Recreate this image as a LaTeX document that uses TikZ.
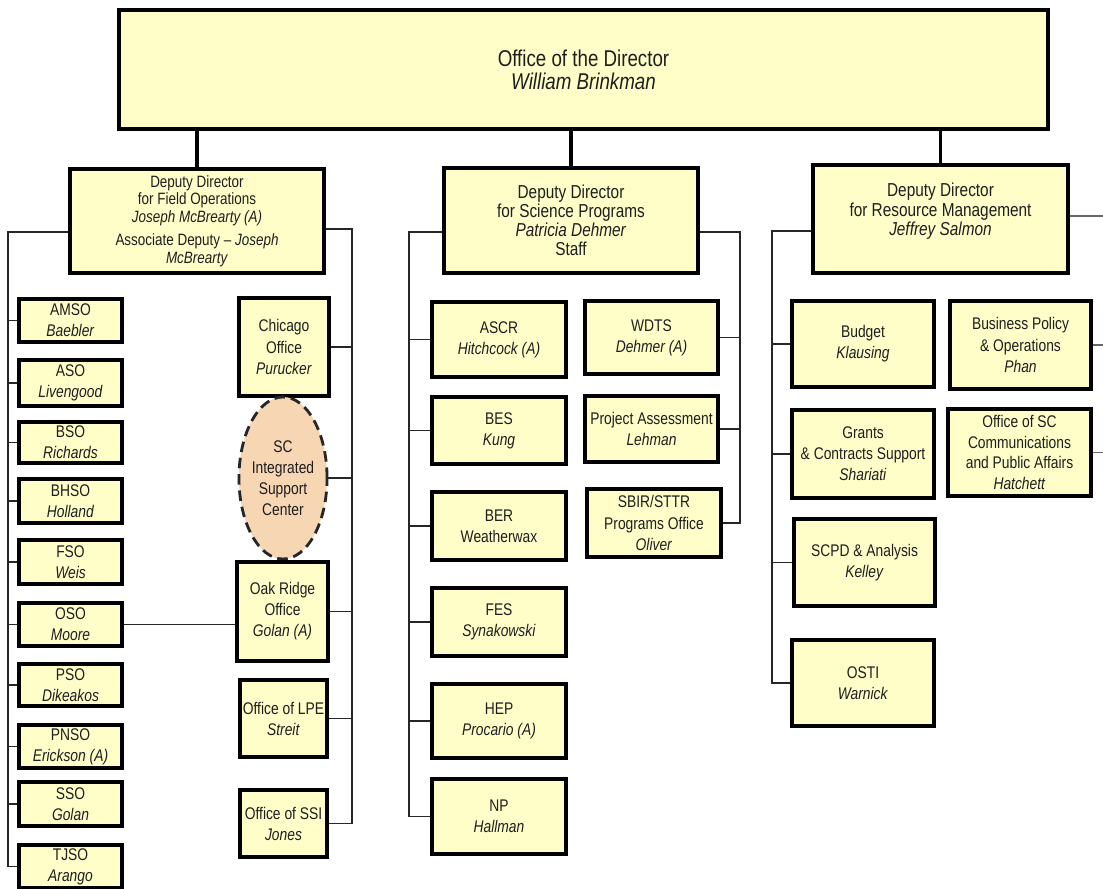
\documentclass[tikz,border=0pt]{standalone}
\usepackage{fontspec}
\setmainfont{Liberation Sans}[FakeStretch=0.82]
\usetikzlibrary{shapes.geometric}
\definecolor{boxfill}{RGB}{255,254,200}
\definecolor{iscfill}{RGB}{247,214,180}
\definecolor{txt}{RGB}{30,30,30}
\tikzset{
  box/.style={draw=black, line width=3.2pt, fill=boxfill, inner sep=1pt, align=center, text=txt,
    font=\fontsize{14.4}{18}\selectfont},
  dep/.style={box, line width=3.4pt},
  conn/.style={draw=black!85, line width=1.1pt},
  trunk/.style={draw=black, line width=2.6pt},
  isc/.style={ellipse, draw=black!85, fill=iscfill, line width=2.4pt, dash pattern=on 9pt off 5pt,
    inner sep=0pt, align=center, text=txt, font=\fontsize{14.4}{18}\selectfont},
}
\newcommand\orgbox[7][]{%
  \node[box,minimum width={(#5-#3)*0.03cm-3.2pt},minimum height={(#6-#4)*0.03cm-3.2pt},#1]
    (#2) at ({(#3+#5)/2},{(#4+#6)/2}) {#7};}
\begin{document}
\begin{tikzpicture}[x=0.03cm,y=-0.03cm]
\useasboundingbox[fill=white] (0,0) rectangle (1103,888);

% director
\orgbox[line width=3.6pt,font=\fontsize{19.5}{19.5}\selectfont]{dir}{117}{8}{1050}{131}{Office of the Director\\\textit{William Brinkman}}

% deputies
\orgbox[dep,font=\fontsize{14}{15}\selectfont]{dd1}{68}{167}{326}{275}{Deputy Director\\for Field Operations\\\textit{Joseph McBrearty (A)}\\[5pt]Associate Deputy \textendash\ \textit{Joseph}\\\textit{McBrearty}}
\orgbox[dep,font=\fontsize{16}{16.2}\selectfont]{dd2}{442}{166}{700}{275}{Deputy Director\\for Science Programs\\\textit{Patricia Dehmer}\\Staff}
\orgbox[dep,font=\fontsize{16}{16.6}\selectfont]{dd3}{811}{163}{1070}{275}{Deputy Director\\for Resource Management\\\textit{Jeffrey Salmon}\\\mbox{}}

\draw[trunk] (dir.south -| dd1.north) -- (dd1.north);
\draw[trunk] (dir.south -| dd2.north) -- (dd2.north);
\draw[trunk] (dir.south -| dd3.north) -- (dd3.north);

% field operations - site offices
\orgbox{amso}{17}{297}{124}{344}{AMSO\\\textit{Baebler}}
\orgbox{aso}{17}{358}{124}{408}{ASO\\\textit{Livengood}}
\orgbox{bso}{17}{420}{124}{465}{BSO\\\textit{Richards}}
\orgbox{bhso}{17}{477}{124}{525}{BHSO\\\textit{Holland}}
\orgbox{fso}{17}{538}{124}{586}{FSO\\\textit{Weis}}
\orgbox{oso}{17}{601}{124}{648}{OSO\\\textit{Moore}}
\orgbox{pso}{17}{662}{124}{708}{PSO\\\textit{Dikeakos}}
\orgbox{pnso}{17}{723}{124}{770}{PNSO\\\textit{Erickson (A)}}
\orgbox{sso}{17}{780}{124}{828}{SSO\\\textit{Golan}}
\orgbox{tjso}{17}{843}{124}{890}{TJSO\\\textit{Arango}}

\orgbox{chicago}{237}{296}{331}{398}{Chicago\\Office\\\textit{Purucker}}
\node[isc, minimum width={83*0.03cm}, minimum height={162*0.03cm}] (iscn) at (283,478) {SC\\Integrated\\Support\\Center};
\orgbox{oak}{235}{560}{330}{663}{Oak Ridge\\Office\\\textit{Golan (A)}}
\orgbox{lpe}{238}{678}{329}{759}{Office of LPE\\\textit{Streit}}
\orgbox{ssi}{238}{788}{329}{859}{Office of SSI\\\textit{Jones}}

\coordinate (L0) at (8,232);
\draw[conn] (dd1.west |- L0) -- (L0) -- (L0 |- tjso.west) -- (tjso.west);
\foreach \n in {amso,aso,bso,bhso,fso,oso,pso,pnso,sso}
  \draw[conn] (\n.west) -- (\n.west -| L0);
\coordinate (R0) at (352,229);
\draw[conn] (dd1.east |- R0) -- (R0) -- (R0 |- ssi.east) -- (ssi.east);
\foreach \n in {chicago,iscn,oak,lpe}
  \draw[conn] (\n.east) -- (\n.east -| R0);
\draw[conn] (oso.east) -- (oak.west |- oso.east);

% science programs
\orgbox{ascr}{430}{300}{568}{379}{ASCR\\\textit{Hitchcock (A)}}
\orgbox{bes}{430}{395}{568}{466}{BES\\\textit{Kung}}
\orgbox{ber}{430}{490}{568}{562}{BER\\Weatherwax}
\orgbox{fes}{430}{586}{568}{658}{FES\\\textit{Synakowski}}
\orgbox{hep}{430}{682}{568}{760}{HEP\\\textit{Procario (A)}}
\orgbox{np}{430}{777}{568}{856}{NP\\\textit{Hallman}}
\orgbox{wdts}{583}{299}{720}{376}{WDTS\\\textit{Dehmer (A)}}
\orgbox{pa}{583}{394}{720}{464}{Project Assessment\\\textit{Lehman}}
\orgbox{sbir}{585}{487}{723}{559}{SBIR/STTR\\Programs Office\\\textit{Oliver}}

\coordinate (M0) at (409,232);
\draw[conn] (dd2.west |- M0) -- (M0) -- (M0 |- np.west) -- (np.west);
\foreach \n in {ascr,bes,ber,fes,hep}
  \draw[conn] (\n.west) -- (\n.west -| M0);
\coordinate (M2) at (740,232);
\draw[conn] (dd2.east |- M2) -- (M2) -- (M2 |- sbir.east) -- (sbir.east);
\foreach \n in {wdts,pa}
  \draw[conn] (\n.east) -- (\n.east -| M2);

% resource management
\orgbox{budget}{790}{299}{936}{389}{Budget\\\textit{Klausing}}
\orgbox{bpo}{948}{299}{1093}{391}{Business Policy\\\& Operations\\\textit{Phan}}
\orgbox{grants}{790}{408}{936}{500}{Grants\\\& Contracts Support\\\textit{Shariati}}
\orgbox[font=\fontsize{14.4}{17.5}\selectfont]{comm}{946}{407}{1093}{498}{Office of SC\\Communications\\and Public Affairs\\\textit{Hatchett}}
\orgbox{scpd}{792}{517}{937}{608}{SCPD \& Analysis\\\textit{Kelley}}
\orgbox{osti}{790}{638}{936}{728}{OSTI\\\textit{Warnick}}

\coordinate (N0) at (772,231);
\draw[conn] (dd3.west |- N0) -- (N0) -- (N0 |- osti.west) -- (osti.west);
\foreach \n in {budget,grants,scpd}
  \draw[conn] (\n.west) -- (\n.west -| N0);
\coordinate (E0) at (1103,216);
\draw[conn, draw=black!60] (dd3.east |- E0) -- (E0);
\draw[conn, draw=black!60] (bpo.east) -- (bpo.east -| E0);
\draw[conn, draw=black!60] (comm.east) -- (comm.east -| E0);
\end{tikzpicture}
\end{document}
